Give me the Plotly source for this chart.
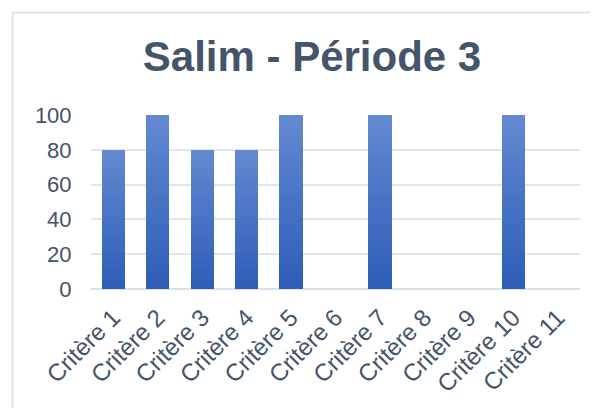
import plotly.graph_objects as go

categories = ["Critère 1", "Critère 2", "Critère 3", "Critère 4", "Critère 5", "Critère 6",
              "Critère 7", "Critère 8", "Critère 9", "Critère 10", "Critère 11"]
values = [80, 100, 80, 80, 100, 0, 100, 0, 0, 100, 0]
title_text = "Salim - Période 3"
y_ticks = [0, 20, 40, 60, 80, 100]

# the page body has an 8px default margin; layout is expressed in figure pixels
W, H = 598, 408
L, R, T, B = 83, 26, 107, 127

top_rgb = (0x62, 0x88, 0xD0)
bot_rgb = (0x2E, 0x5E, 0xB8)
N = 30

fig = go.Figure()
for k in range(N):
    f = k / (N - 1)
    c = tuple(round(bot_rgb[i] + (top_rgb[i] - bot_rgb[i]) * f) for i in range(3))
    fig.add_trace(go.Bar(
        x=categories,
        y=[v / N for v in values],
        marker=dict(color="rgb(%d,%d,%d)" % c, line=dict(width=0)),
        showlegend=False,
        hoverinfo="skip",
    ))

pw = W - L - R
ph = H - T - B

fig.update_layout(
    width=W, height=H,
    margin=dict(l=L, r=R, t=T, b=B, autoexpand=False),
    barmode="stack",
    bargap=0.48,
    paper_bgcolor="white",
    plot_bgcolor="white",
    font=dict(family="Liberation Sans, Arial, sans-serif", color="#44546A"),
    title=dict(text="<b>" + title_text + "</b>", x=304 / W, xanchor="center",
               y=1 - 48 / H, yanchor="middle", yref="container",
               font=dict(size=42, color="#44546A")),
    xaxis=dict(tickangle=-45, tickfont=dict(size=24, color="#44546A"),
               showgrid=False, showline=False, ticks="outside", ticklen=4,
               tickcolor="rgba(0,0,0,0)", automargin=False),
    yaxis=dict(range=[0, 100], tickvals=y_ticks, tickfont=dict(size=22, color="#44546A"),
               showgrid=True, gridcolor="#E1E5EC", gridwidth=1.5,
               zeroline=True, zerolinecolor="#DCE1E9", zerolinewidth=2,
               showline=False, ticks="outside", ticklen=14, tickcolor="rgba(0,0,0,0)",
               automargin=False),
    shapes=[dict(type="rect", xref="paper", yref="paper",
                 x0=(4.5 - L) / pw, x1=(W + 10 - L) / pw,
                 y0=-(B + 10) / ph, y1=1 + (T - 4.5) / ph,
                 line=dict(color="#E0E4EC", width=2), layer="below")],
)

fig.write_html("out.html")
